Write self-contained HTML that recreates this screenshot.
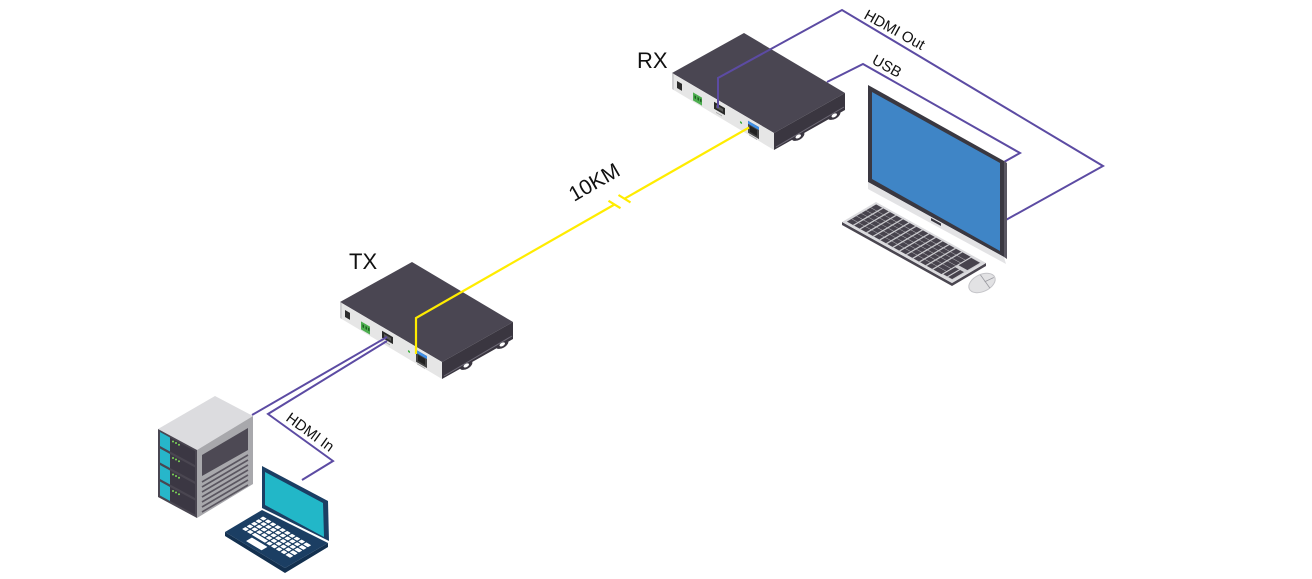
<!DOCTYPE html>
<html><head><meta charset="utf-8"><style>
html,body{margin:0;padding:0;background:#fff;}
svg{display:block;}
text{font-family:"Liberation Sans",Arial,sans-serif;fill:#111;}
</style></head><body>
<svg width="1312" height="579" viewBox="0 0 1312 579" xmlns="http://www.w3.org/2000/svg">
<defs>
<g id="box">
  <polygon points="0,0 72,-40 173,20 102,60" fill="#4a4652"/>
  <polygon points="0,0 102,60 102,77 0,16" fill="#e6e6e6"/>
  <polygon points="0,0 2,1 2,17 0,16" fill="#cfcfd1"/>
  <polygon points="102,60 173,20 173,37 102,77" fill="#3a3640"/>
  <g transform="rotate(-30 162 42)"><ellipse cx="162" cy="42" rx="7" ry="4" fill="#3a3640"/><ellipse cx="162" cy="42.5" rx="3" ry="1.7" fill="#fff"/></g>
  <g transform="rotate(-30 126 63)"><ellipse cx="126" cy="63" rx="7" ry="4" fill="#3a3640"/><ellipse cx="126" cy="63.5" rx="3" ry="1.7" fill="#fff"/></g>
  <line x1="104" y1="74" x2="172" y2="34" stroke="#6e6a76" stroke-width="1"/>
  <g transform="matrix(1,0.588,0,1,0,0)">
    <rect x="5" y="5" width="5" height="7" fill="#2b2b2b"/>
    <rect x="21" y="7" width="9" height="8" fill="#4dae4f"/>
    <rect x="22.5" y="9" width="1.5" height="3" fill="#1f5e21"/>
    <rect x="25.5" y="9" width="1.5" height="3" fill="#1f5e21"/>
    <rect x="28" y="9" width="1.5" height="3" fill="#1f5e21"/>
    <rect x="42" y="4" width="11" height="7" fill="#2a2a2a"/>
    <rect x="44" y="6" width="7" height="3" fill="#5a5a5a"/>
    <rect x="44" y="13" width="6" height="1" fill="#aaa"/>
    <circle cx="69" cy="9" r="1.1" fill="#3a3"/>
    <rect x="76" y="3" width="11" height="12" fill="#444"/>
    <rect x="76" y="3" width="11" height="3" fill="#3e8ee6"/>
    <rect x="78" y="7" width="7" height="6" fill="#222"/>
    <rect x="77" y="16" width="8" height="1" fill="#aaa"/>
  </g>
</g>
</defs>

<!-- TX and RX boxes -->
<use href="#box" x="340" y="302"/>
<use href="#box" x="672" y="73"/>

<!-- Labels -->
<text x="637" y="68" font-size="22">RX</text>
<text x="349" y="269" font-size="22">TX</text>
<text x="0" y="0" font-size="21" transform="translate(574,202) rotate(-30)">10KM</text>
<text x="0" y="0" font-size="15" transform="translate(863,18) rotate(29)">HDMI Out</text>
<text x="0" y="0" font-size="15" transform="translate(871,63) rotate(29)">USB</text>
<text x="0" y="0" font-size="15" transform="translate(285,420) rotate(36)">HDMI In</text>

<!-- Yellow fiber -->
<g stroke="#ffec00" stroke-width="2.2" fill="none">
  <polyline points="416,354 416,318 614.5,204.5"/>
  <line x1="608.5" y1="200.8" x2="620.5" y2="208.2"/>
  <line x1="618.5" y1="195" x2="630.5" y2="202.4"/>
  <polyline points="624.5,198.7 749,127.5"/>
</g>

<!-- Purple cables -->
<g stroke="#5c4ba3" stroke-width="2" fill="none" stroke-linejoin="miter">
  <polyline points="718,108 718,78 842,10 1103,166 1004,221"/>
  <polyline points="827,82 863,64 1020,153 1004,162"/>
  <polyline points="252,415 387,337"/>
  <polyline points="387,341 268,414 333,461 302,480"/>
</g>

<!-- Monitor -->
<polygon points="868,85 1004,161 1004,257 868,182" fill="#3a3841"/>
<polygon points="1004,161 1007,163 1007,259 1004,257" fill="#5a5762"/>
<polygon points="872,92 1000,163 1000,251 872,179" fill="#3f85c6"/>
<polygon points="868,182 1004,257 1006,264 868,189" fill="#e3e3e5"/>
<polygon points="931,218 941,223.5 941,226 931,220.5" fill="#3a3841"/>

<!-- Keyboard -->
<polygon points="842,222 952,283 986,263 986,266 952,286 842,225" fill="#4a4650"/>
<g transform="matrix(1.10,0.61,0.34,-0.20,842,222)">
  <rect x="0" y="0" width="100" height="100" fill="#dcdcdf"/>
  <rect x="2" y="8" width="86" height="86" fill="#47434d"/>
  <rect x="88" y="8" width="10" height="86" fill="#cfcfd3"/>
  <rect x="89" y="10" width="3.5" height="35" fill="#47434d"/>
  <rect x="93.5" y="10" width="3.5" height="35" fill="#47434d"/>
  <rect x="89" y="55" width="8" height="37" fill="#47434d"/>
  <g stroke="#c8c8cc" stroke-width="1.2" vector-effect="non-scaling-stroke">
    <line x1="2" y1="22" x2="88" y2="22"/>
    <line x1="2" y1="36" x2="88" y2="36"/>
    <line x1="2" y1="50" x2="88" y2="50"/>
    <line x1="2" y1="64" x2="88" y2="64"/>
    <line x1="2" y1="78" x2="88" y2="78"/>
    <line x1="8" y1="8" x2="8" y2="94"/>
    <line x1="14" y1="8" x2="14" y2="94"/>
    <line x1="20" y1="8" x2="20" y2="94"/>
    <line x1="26" y1="8" x2="26" y2="94"/>
    <line x1="32" y1="8" x2="32" y2="94"/>
    <line x1="38" y1="8" x2="38" y2="94"/>
    <line x1="44" y1="8" x2="44" y2="94"/>
    <line x1="50" y1="8" x2="50" y2="94"/>
    <line x1="56" y1="8" x2="56" y2="94"/>
    <line x1="62" y1="8" x2="62" y2="94"/>
    <line x1="68" y1="8" x2="68" y2="94"/>
    <line x1="74" y1="8" x2="74" y2="94"/>
    <line x1="80" y1="8" x2="80" y2="94"/>
  </g>
</g>

<!-- Mouse -->
<g transform="rotate(-25 982 283)">
  <ellipse cx="982" cy="283" rx="14" ry="8.5" fill="#e2e2e4" stroke="#c4c4c8" stroke-width="1"/>
  <line x1="984" y1="275" x2="987" y2="291" stroke="#9a9aa0" stroke-width="0.8"/>
  <line x1="985" y1="283" x2="995" y2="283" stroke="#9a9aa0" stroke-width="0.8"/>
</g>

<!-- Server -->
<polygon points="215,396 253,416 197,450 158,429" fill="#dcdcdf"/>
<polygon points="158,429 197,450 197,518 158,497" fill="#4a4651"/>
<polygon points="197,450 253,416 253,484 197,518" fill="#a8a8ac"/>
<polygon points="202,455 248,428 248,450 202,476" fill="#4d4954"/>
<g stroke="#5a5660" stroke-width="1.6">
  <line x1="202" y1="482" x2="248" y2="455"/>
  <line x1="202" y1="487" x2="248" y2="460"/>
  <line x1="202" y1="492" x2="248" y2="465"/>
  <line x1="202" y1="497" x2="248" y2="470"/>
  <line x1="202" y1="502" x2="248" y2="475"/>
  <line x1="202" y1="507" x2="248" y2="480"/>
  <line x1="202" y1="512" x2="248" y2="485"/>
</g>
<g>
  <polygon points="160,432 195,451 195,465 160,446" fill="#3b3743"/>
  <polygon points="160,432 170,437.5 170,451.5 160,446" fill="#27b6ca"/>
  <circle cx="173" cy="441.5" r="1" fill="#7ed957"/><circle cx="176" cy="443" r="1" fill="#7ed957"/><circle cx="179" cy="444.7" r="1" fill="#7ed957"/>
  <polygon points="160,448.5 195,467.5 195,481.5 160,462.5" fill="#3b3743"/>
  <polygon points="160,448.5 170,454 170,468 160,462.5" fill="#27b6ca"/>
  <circle cx="173" cy="458" r="1" fill="#7ed957"/><circle cx="176" cy="459.5" r="1" fill="#7ed957"/><circle cx="179" cy="461.2" r="1" fill="#7ed957"/>
  <polygon points="160,465 195,484 195,498 160,479" fill="#3b3743"/>
  <polygon points="160,465 170,470.5 170,484.5 160,479" fill="#27b6ca"/>
  <circle cx="173" cy="474.5" r="1" fill="#7ed957"/><circle cx="176" cy="476" r="1" fill="#7ed957"/><circle cx="179" cy="477.7" r="1" fill="#7ed957"/>
  <polygon points="160,481.5 195,500.5 195,514.5 160,495.5" fill="#3b3743"/>
  <polygon points="160,481.5 170,487 170,501 160,495.5" fill="#27b6ca"/>
  <circle cx="173" cy="491" r="1" fill="#7ed957"/><circle cx="176" cy="492.5" r="1" fill="#7ed957"/><circle cx="179" cy="494.2" r="1" fill="#7ed957"/>
</g>

<!-- Laptop -->
<polygon points="262,466 328,501 329,541 262,508" fill="#1b3e63"/>
<polygon points="265,472 323,503 324,537 265,505" fill="#22b7c8"/>
<polygon points="225,532 285,568 328,543 328,547 285,573 225,536" fill="#13304f"/>
<polygon points="225,532 262,510 328,543 285,568" fill="#1b3e63"/>
<g transform="matrix(0.60,0.36,0.37,-0.22,225,532)" fill="#fff">
  <rect x="10" y="78" width="6" height="9" rx="1"/><rect x="18" y="78" width="6" height="9" rx="1"/><rect x="26" y="78" width="6" height="9" rx="1"/><rect x="34" y="78" width="6" height="9" rx="1"/><rect x="42" y="78" width="6" height="9" rx="1"/><rect x="50" y="78" width="6" height="9" rx="1"/><rect x="58" y="78" width="6" height="9" rx="1"/><rect x="66" y="78" width="6" height="9" rx="1"/><rect x="74" y="78" width="6" height="9" rx="1"/><rect x="82" y="78" width="8" height="9" rx="1"/>
  <rect x="10" y="66" width="6" height="9" rx="1"/><rect x="18" y="66" width="6" height="9" rx="1"/><rect x="26" y="66" width="6" height="9" rx="1"/><rect x="34" y="66" width="6" height="9" rx="1"/><rect x="42" y="66" width="6" height="9" rx="1"/><rect x="50" y="66" width="6" height="9" rx="1"/><rect x="58" y="66" width="6" height="9" rx="1"/><rect x="66" y="66" width="6" height="9" rx="1"/><rect x="74" y="66" width="6" height="9" rx="1"/><rect x="82" y="66" width="8" height="9" rx="1"/>
  <rect x="10" y="54" width="6" height="9" rx="1"/><rect x="18" y="54" width="6" height="9" rx="1"/><rect x="26" y="54" width="6" height="9" rx="1"/><rect x="34" y="54" width="6" height="9" rx="1"/><rect x="42" y="54" width="6" height="9" rx="1"/><rect x="50" y="54" width="6" height="9" rx="1"/><rect x="58" y="54" width="6" height="9" rx="1"/><rect x="66" y="54" width="6" height="9" rx="1"/><rect x="74" y="54" width="6" height="9" rx="1"/><rect x="82" y="54" width="8" height="9" rx="1"/>
  <rect x="10" y="42" width="6" height="9" rx="1"/><rect x="18" y="42" width="6" height="9" rx="1"/><rect x="26" y="42" width="6" height="9" rx="1"/><rect x="34" y="42" width="6" height="9" rx="1"/><rect x="42" y="42" width="6" height="9" rx="1"/><rect x="50" y="42" width="6" height="9" rx="1"/><rect x="58" y="42" width="6" height="9" rx="1"/><rect x="66" y="42" width="6" height="9" rx="1"/><rect x="74" y="42" width="6" height="9" rx="1"/><rect x="82" y="42" width="8" height="9" rx="1"/>
  <rect x="10" y="30" width="6" height="9" rx="1"/><rect x="18" y="30" width="6" height="9" rx="1"/><rect x="26" y="30" width="22" height="9" rx="1"/><rect x="50" y="30" width="6" height="9" rx="1"/><rect x="58" y="30" width="6" height="9" rx="1"/><rect x="66" y="30" width="6" height="9" rx="1"/><rect x="74" y="30" width="6" height="9" rx="1"/><rect x="82" y="30" width="8" height="9" rx="1"/>
  <rect x="30" y="8" width="26" height="16" rx="1"/>
</g>
</svg>
</body></html>
